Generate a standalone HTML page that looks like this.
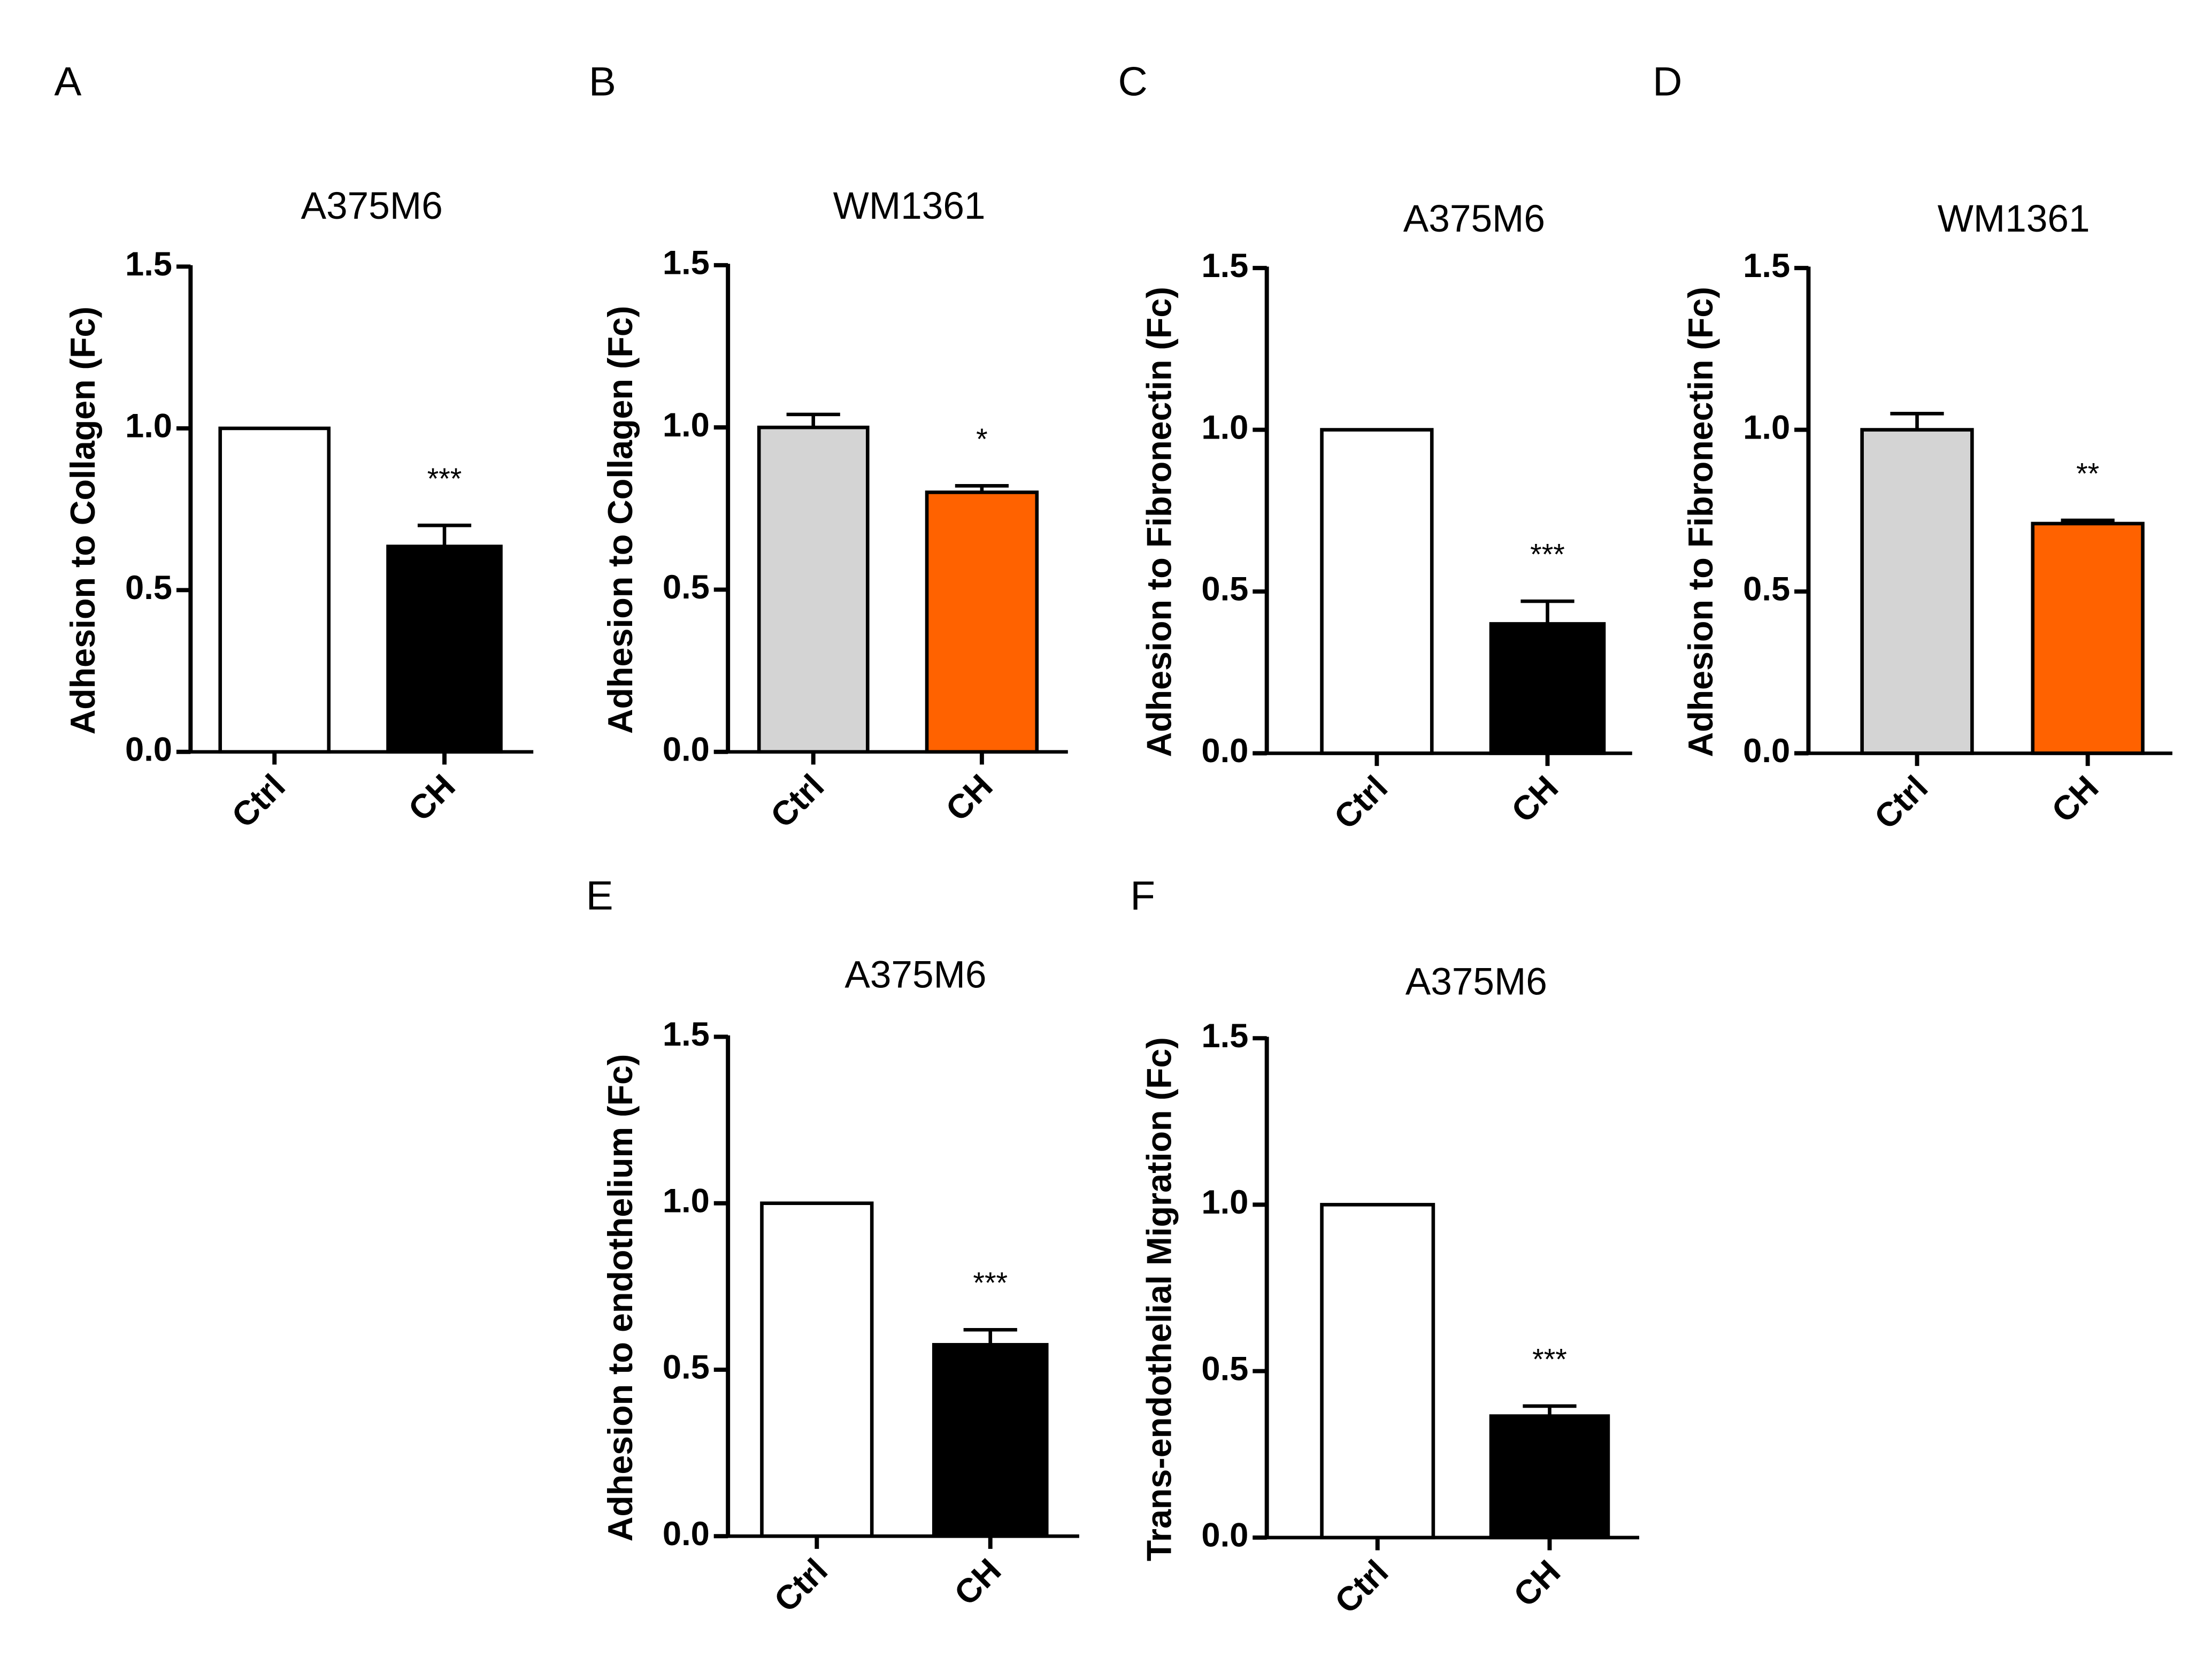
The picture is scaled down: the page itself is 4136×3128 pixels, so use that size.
<!DOCTYPE html>
<html><head><meta charset="utf-8">
<style>
html,body{margin:0;padding:0;background:#fff;}
svg{display:block;}
text{font-family:"Liberation Sans",Arial,sans-serif;}
</style></head>
<body>
<svg id="fig" width="4136" height="3128" viewBox="0 0 1568 1186" xmlns="http://www.w3.org/2000/svg"></svg>
<script>
const categories = ["Ctrl", "CH"];
const panelLetters = ["A", "B", "C", "D", "E", "F"];
const panelTitles = ["A375M6", "WM1361", "A375M6", "WM1361", "A375M6", "A375M6"];
const yLabels = ["Adhesion to Collagen (Fc)", "Adhesion to Collagen (Fc)", "Adhesion to Fibronectin (Fc)", "Adhesion to Fibronectin (Fc)", "Adhesion to endothelium (Fc)", "Trans-endothelial Migration (Fc)"];
const ctrlValues = [1.0, 1.0, 1.0, 1.0, 1.0, 1.0];
const ctrlErrors = [0, 0.04, 0, 0.05, 0, 0];
const chValues = [0.635, 0.80, 0.40, 0.71, 0.575, 0.365];
const chErrors = [0.065, 0.02, 0.07, 0.01, 0.045, 0.03];
const sigLabels = ["***", "*", "***", "**", "***", "***"];
const yTicks = [0.0, 0.5, 1.0, 1.5];
const yTickLabels = ["0.0", "0.5", "1.0", "1.5"];
const colorStyle = ["bw", "color", "bw", "color", "bw", "bw"];

// layout (not data)
const layout = [
  {ax:135, y0:533, y1:189, xe:378, b:[[156,233],[275,355]], lx:48, ly:60, ty:148},
  {ax:516, y0:533, y1:188, xe:757, b:[[538,615],[657,735]], lx:427, ly:60, ty:148},
  {ax:898, y0:534, y1:190, xe:1157, b:[[937,1015],[1057,1137]], lx:803, ly:60, ty:157},
  {ax:1282, y0:534, y1:190, xe:1540, b:[[1320,1398],[1441,1519]], lx:1182, ly:60, ty:157},
  {ax:516, y0:1089, y1:735, xe:765, b:[[540,618],[662,742]], lx:425, ly:637, ty:693},
  {ax:898, y0:1090, y1:736, xe:1162, b:[[937,1016],[1057,1140]], lx:810, ly:637, ty:698}
];
const NS = "http://www.w3.org/2000/svg";
const svg = document.getElementById("fig");
function mk(tag, attrs, parent, txt){
  const e = document.createElementNS(NS, tag);
  for (const k in attrs) e.setAttribute(k, attrs[k]);
  if (txt !== undefined) e.textContent = txt;
  parent.appendChild(e);
  return e;
}
layout.forEach((L, i) => {
  const g = mk("g", {}, svg);
  
  
  const yS = v => L.y0 + (L.y1 - L.y0) * (v / 1.5);
  const t1 = mk("text", {x:L.lx, y:L.ly, "font-size":29, "text-anchor":"middle", "dominant-baseline":"middle"}, g, panelLetters[i]);
  
  
  const cx = (L.b[0][0] + L.b[1][1]) / 2 + 8;
  const t2 = mk("text", {x:cx, y:L.ty, "font-size":27, "text-anchor":"middle", "dominant-baseline":"middle"}, g, panelTitles[i]);
  
  
  const ymid = (L.y0 + L.y1) / 2 + 8;
  const yl = mk("text", {x:0, y:0, "font-size":24.5, "font-weight":"bold", "text-anchor":"middle", transform:`translate(${L.ax-68},${ymid}) rotate(-90)`}, g, yLabels[i]);
  
  
  const vals = [ctrlValues[i], chValues[i]];
  const errs = [ctrlErrors[i], chErrors[i]];
  const fills = colorStyle[i] === "color" ? ["#d4d4d4", "#ff6200"] : ["#ffffff", "#000000"];
  vals.forEach((v, j) => {
    const [x0, x1] = L.b[j];
    const xc = (x0 + x1) / 2;
    if (errs[j] > 0) {
      const el = mk("path", {d:`M${xc},${yS(v)} V${yS(v+errs[j])} M${xc-19},${yS(v+errs[j])} H${xc+19}`, stroke:"#000", "stroke-width":2.5, fill:"none"}, g);
      
      
    }
    const r = mk("rect", {x:x0, y:yS(v), width:x1-x0, height:L.y0-yS(v), fill:fills[j], stroke:"#000", "stroke-width":2.5}, g);
    
    
    const tk = mk("line", {x1:xc, x2:xc, y1:L.y0, y2:L.y0+9, stroke:"#000", "stroke-width":3}, g);
    
    
    const cl = mk("text", {x:0, y:0, "font-size":24, "font-weight":"bold", "text-anchor":"end", transform:`translate(${xc+9},${L.y0+26}) rotate(-45)`}, g, categories[j]);
    
    
  });
  const xc2 = (L.b[1][0] + L.b[1][1]) / 2;
  const sg = mk("text", {x:xc2, y:yS(chValues[i] + chErrors[i]) - 26, "font-size":21, "text-anchor":"middle"}, g, sigLabels[i]);
  
  
  const ya = mk("line", {x1:L.ax, x2:L.ax, y1:L.y1-1, y2:L.y0+1, stroke:"#000", "stroke-width":3}, g);
  
  
  const xa = mk("line", {x1:L.ax-10, x2:L.xe, y1:L.y0, y2:L.y0, stroke:"#000", "stroke-width":2.5}, g);
  
  
  yTicks.forEach((t, k) => {
    const y = yS(t);
    const tl = mk("line", {x1:L.ax-10, x2:L.ax, y1:y, y2:y, stroke:"#000", "stroke-width":3}, g);
    
    
    const tt = mk("text", {x:L.ax-13, y:y, "font-size":24, "font-weight":"bold", "text-anchor":"end", "dominant-baseline":"middle"}, g, yTickLabels[k]);
    
    
  });
});
</script>
</body></html>
